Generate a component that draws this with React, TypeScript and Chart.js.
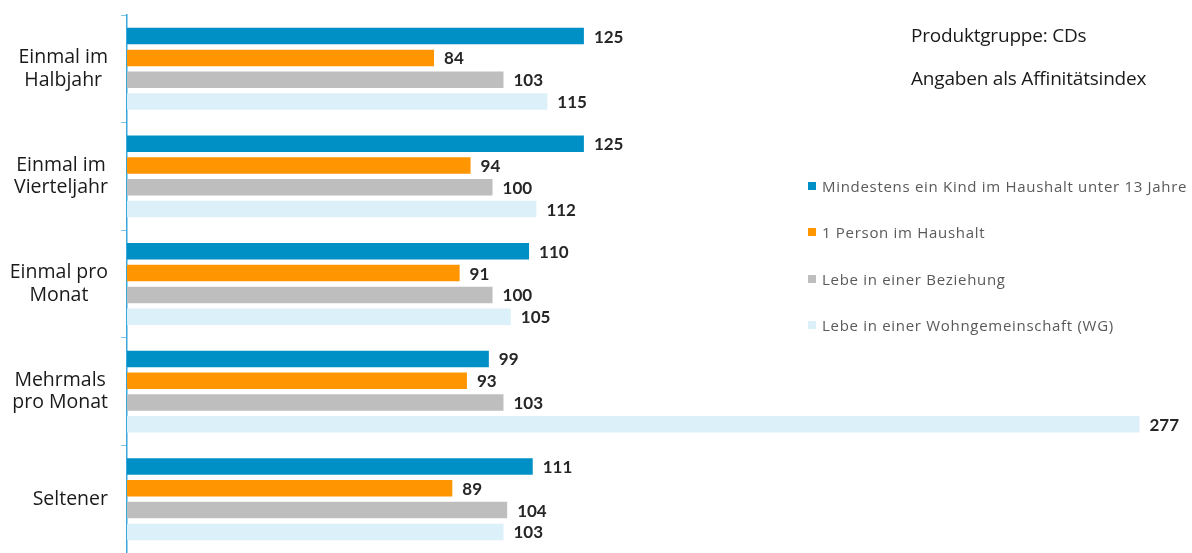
import React, { useEffect, useRef } from "react";
import { Chart, registerables } from "chart.js";

Chart.register(...registerables);

const categories: string[][] = [
  ["Einmal im", "Halbjahr"],
  ["Einmal im", "Vierteljahr"],
  ["Einmal pro", "Monat"],
  ["Mehrmals", "pro Monat"],
  ["Seltener"],
];

const seriesNames = [
  "Mindestens ein Kind im Haushalt unter 13 Jahre",
  "1 Person im Haushalt",
  "Lebe in einer Beziehung",
  "Lebe in einer Wohngemeinschaft (WG)",
];

const kindUnter13 = [125, 125, 110, 99, 111];
const einePerson = [84, 94, 91, 93, 89];
const beziehung = [103, 100, 100, 103, 104];
const wohngemeinschaft = [115, 112, 105, 277, 103];

const seriesValues = [kindUnter13, einePerson, beziehung, wohngemeinschaft];
const seriesColors = ["#0090c6", "#ff9500", "#bebebe", "#dcf0f9"];

const titleLines = ["Produktgruppe: CDs", "Angaben als Affinitätsindex"];

const FONT = "Lato, 'Open Sans', sans-serif";
const WIDE = "'Open Sans', Lato, sans-serif";

const valueLabelPlugin = {
  id: "valueLabels",
  afterDatasetsDraw(chart: any) {
    const ctx = chart.ctx;
    ctx.save();
    ctx.font = `bold 17px ${FONT}`;
    ctx.fillStyle = "#262626";
    ctx.textAlign = "left";
    ctx.textBaseline = "middle";
    chart.data.datasets.forEach((ds: any, i: number) => {
      const meta = chart.getDatasetMeta(i);
      meta.data.forEach((el: any, j: number) => {
        ctx.fillText(String(ds.data[j]), el.x + 10, el.y + 1);
      });
    });
    ctx.restore();
  },
};

const categoryLabelPlugin = {
  id: "categoryLabels",
  afterDraw(chart: any) {
    const ctx = chart.ctx;
    const scale = chart.scales.y;
    ctx.save();
    ctx.font = `19.5px ${WIDE}`;
    ctx.fillStyle = "#1a1a1a";
    ctx.textAlign = "center";
    ctx.textBaseline = "middle";
    const lineH = 22.5;
    const right = 108;
    (chart.data.labels as string[][]).forEach((lines, i) => {
      const cy = scale.getPixelForValue(i);
      const w = Math.max(...lines.map((l) => ctx.measureText(l).width));
      const cx = right - w / 2;
      const y0 = cy - ((lines.length - 1) * lineH) / 2;
      lines.forEach((l, k) => ctx.fillText(l, cx, y0 + k * lineH));
    });
    ctx.restore();
  },
};

export default function App() {
  const ref = useRef<HTMLCanvasElement | null>(null);

  useEffect(() => {
    if (!ref.current) return;
    const chart = new Chart(ref.current, {
      type: "bar",
      data: {
        labels: categories as any,
        datasets: seriesValues.map((vals, i) => ({
          label: seriesNames[i],
          data: vals,
          backgroundColor: seriesColors[i],
          borderWidth: 0,
          categoryPercentage: 0.81,
          barPercentage: 0.757,
        })),
      },
      options: {
        indexAxis: "y",
        responsive: false,
        animation: false,
        layout: { padding: { top: 15, right: 5, bottom: 0, left: 0 } },
        plugins: {
          legend: { display: false },
          tooltip: { enabled: false },
        },
        scales: {
          x: {
            display: false,
            min: 0,
            max: 290,
          },
          y: {
            type: "category",
            ticks: { display: false },
            grid: {
              display: true,
              drawOnChartArea: false,
              drawTicks: true,
              tickLength: 6,
              color: "#7cc3e6",
              offset: true,
            },
            border: { display: true, color: "#3aa6d9", width: 1.5 },
            afterFit(scale: any) {
              scale.width = 127;
            },
          },
        },
      },
      plugins: [valueLabelPlugin, categoryLabelPlugin],
    });
    return () => chart.destroy();
  }, []);

  const legendTops = [186, 232, 279, 325];

  return (
    <div
      style={{
        position: "absolute",
        left: 0,
        top: 0,
        width: 1192,
        height: 553,
        background: "#ffffff",
        overflow: "hidden",
      }}
    >
      <canvas ref={ref} width={1192} height={553} style={{ display: "block" }} />
      {titleLines.map((t, i) => (
        <div
          key={t}
          style={{
            position: "absolute",
            left: 911,
            top: [35, 78][i] - 12,
            height: 24,
            lineHeight: "24px",
            fontFamily: WIDE,
            fontSize: 19,
            color: "#1a1a1a",
            letterSpacing: "-0.2px",
            whiteSpace: "nowrap",
          }}
        >
          {t}
        </div>
      ))}
      {seriesNames.map((name, i) => (
        <div
          key={name}
          style={{
            position: "absolute",
            left: 808,
            top: legendTops[i] - 10,
            height: 20,
            display: "flex",
            alignItems: "center",
            fontFamily: WIDE,
            fontSize: 15,
            letterSpacing: "0.7px",
            color: "#595959",
            whiteSpace: "nowrap",
          }}
        >
          <span
            style={{
              display: "inline-block",
              width: 8,
              height: 8,
              background: seriesColors[i],
              marginRight: 6,
            }}
          />
          {name}
        </div>
      ))}
    </div>
  );
}
